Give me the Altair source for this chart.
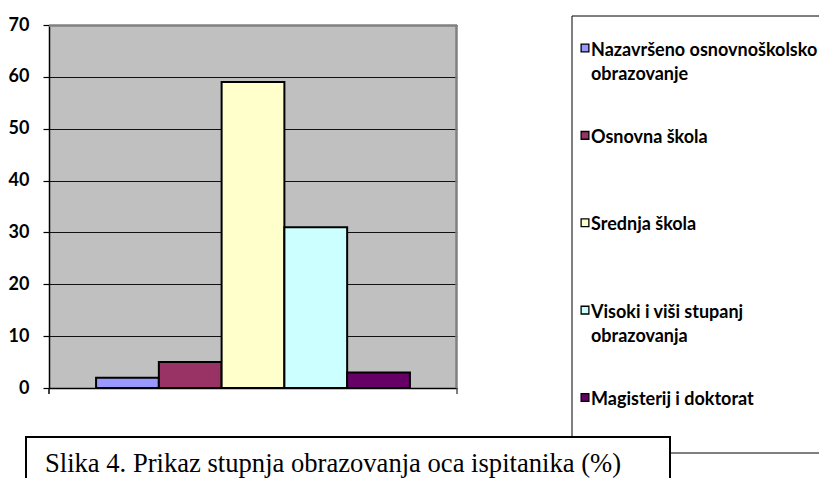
import altair as alt
import pandas as pd

# ---- data ----
categories = [
    "Nazavršeno osnovnoškolsko obrazovanje",
    "Osnovna škola",
    "Srednja škola",
    "Visoki i viši stupanj obrazovanja",
    "Magisterij i doktorat",
]
values = [2, 5, 59, 31, 3]
colors = ["#9999FF", "#993366", "#FFFFCC", "#CCFFFF", "#660066"]
legend_labels = ["Nazavršeno osnovnoškolsko\nobrazovanje", "Osnovna škola", "Srednja škola",
                 "Visoki i viši stupanj\nobrazovanja", "Magisterij i doktorat"]
y_ticks = [0, 10, 20, 30, 40, 50, 60, 70]
caption = "Slika 4. Prikaz stupnja obrazovanja oca ispitanika (%)"

df = pd.DataFrame({"cat": categories, "val": values, "lab": legend_labels})
one = pd.DataFrame({"k": [0]})

W, H = 408, 363
LEG_FONT = "Lato"

color = alt.Color("cat:N", scale=alt.Scale(domain=categories, range=colors), legend=None)

bars = alt.Chart(df).mark_bar(stroke="black", strokeWidth=2, opacity=1).encode(
    x=alt.X("cat:N", sort=categories,
            scale=alt.Scale(paddingInner=0, paddingOuter=0.75),
            axis=alt.Axis(title=None, labels=False, ticks=False, grid=False,
                          domainColor="black", domainWidth=1.5)),
    y=alt.Y("val:Q", scale=alt.Scale(domain=[0, 70], nice=False),
            axis=alt.Axis(title=None, values=y_ticks, orient="left", grid=True,
                          gridColor="#111111", gridWidth=1,
                          domainColor="black", domainWidth=1.5,
                          tickColor="black", tickSize=6, tickWidth=1.2,
                          labelFont=LEG_FONT, labelFontWeight="bold", labelFontSize=18,
                          labelColor="black", labelPadding=14)),
    color=color,
)

legend_y = alt.Y("cat:N", scale=alt.Scale(type="point", domain=categories,
                                          range=[23, 372.5], padding=0), axis=None)

leg_sq = alt.Chart(df).mark_point(shape="square", filled=True, size=60, stroke="black",
                                  strokeWidth=1.3, opacity=1).encode(
    x=alt.value(536), y=legend_y, color=color)

leg_txt = alt.Chart(df).mark_text(align="left", baseline="alphabetic", font=LEG_FONT,
                                  fontWeight="bold", fontSize=18, color="black",
                                  lineBreak="\n", lineHeight=24, dy=7.5).encode(
    x=alt.value(542), y=legend_y, text="lab:N")

legend_box = alt.Chart(one).mark_rect(fill="white", stroke="black", strokeWidth=1).encode(
    x=alt.value(523), x2=alt.value(830), y=alt.value(-9), y2=alt.value(428))
caption_box = alt.Chart(one).mark_rect(fill="white", stroke="black", strokeWidth=2).encode(
    x=alt.value(-23), x2=alt.value(621), y=alt.value(412), y2=alt.value(480))
caption_text = alt.Chart(one).mark_text(align="left", baseline="alphabetic",
                                        font="Liberation Serif", fontSize=26.6, color="black").encode(
    x=alt.value(-4), y=alt.value(447), text=alt.value(caption))

top_border = alt.Chart(one).mark_rule(color="#808080", strokeWidth=2.5).encode(
    x=alt.value(0), x2=alt.value(W), y=alt.value(0.5))
right_border = alt.Chart(one).mark_rule(color="#808080", strokeWidth=2.5).encode(
    x=alt.value(W - 0.5), y=alt.value(0), y2=alt.value(H))
left_ext = alt.Chart(one).mark_rule(color="black", strokeWidth=1.5).encode(
    x=alt.value(0), y=alt.value(H), y2=alt.value(H + 6))
right_ext = alt.Chart(one).mark_rule(color="#555555", strokeWidth=1.5).encode(
    x=alt.value(W), y=alt.value(H), y2=alt.value(H + 6))

chart = alt.layer(
    legend_box, caption_box, bars, top_border, right_border, left_ext, right_ext,
    leg_sq, leg_txt, caption_text,
).resolve_scale(y="independent").properties(
    width=W, height=H,
    autosize=alt.AutoSizeParams(type="none"),
    padding={"left": 41, "top": 17, "right": 362, "bottom": 90},
).configure_view(fill="#C0C0C0", strokeWidth=0)

chart.save("out.html", embed_options={"renderer": "svg", "actions": False})
